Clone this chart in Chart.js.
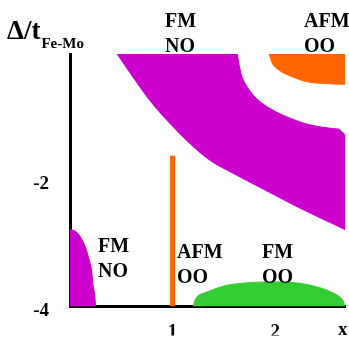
<!DOCTYPE html>
<html>
<head>
<meta charset="utf-8">
<script src="https://cdn.jsdelivr.net/npm/chart.js@4.4.1/dist/chart.umd.min.js"></script>
<style>
  html, body { margin: 0; padding: 0; background: #fff; }
  #wrap { width: 349px; height: 339px; position: relative; }
</style>
</head>
<body>
<div id="wrap"><canvas id="c"></canvas></div>
<script>
// ── axes
const xTicks = [1, 2];
const yTicks = [-4, -2];
const xMax = 2.68, yMin = -4, yMax = 0;

// ── FM / NO large band (closed outline)
//    corner points are listed twice so the curve stays sharp there
const bandX = [0.46, 1.63, 1.63, 1.65, 1.68, 1.73, 1.79, 1.87, 2.00, 2.15, 2.31, 2.46, 2.62, 2.62, 2.68, 2.68, 2.68, 2.68, 2.24, 1.92, 1.59, 1.37, 1.17, 0.98, 0.81, 0.65, 0.46];
const bandY = [0, 0, 0, -0.19, -0.38, -0.53, -0.66, -0.78, -0.91, -1.02, -1.11, -1.16, -1.19, -1.19, -1.28, -1.28, -2.78, -2.78, -2.44, -2.17, -1.89, -1.69, -1.42, -1.11, -0.80, -0.45, 0];

// ── AFM / OO cap, top right
const capX = [1.94, 1.98, 2.05, 2.12, 2.31, 2.51, 2.68, 2.68, 2.68];
const capY = [0, -0.17, -0.27, -0.33, -0.44, -0.47, -0.48, -0.48, 0];

// ── FM / OO dome on the x axis
const domeX = [1.20, 1.24, 1.35, 1.51, 1.68, 1.90, 2.17, 2.39, 2.56, 2.65, 2.68];
const domeY = [-4, -3.84, -3.76, -3.67, -3.63, -3.61, -3.62, -3.68, -3.78, -3.88, -4];

// ── FM / NO corner near x = 0
const cornerX = [0, 0, 0, 0.03, 0.07, 0.11, 0.15, 0.18, 0.21, 0.22, 0.24, 0.25];
const cornerY = [-4, -2.78, -2.78, -2.79, -2.83, -2.92, -3.06, -3.22, -3.41, -3.61, -3.81, -4];

// ── AFM / OO line at x = 1
const lineX = [1, 1];
const lineY = [-4, -1.61];

// ── phase labels: [text lines, left x px, first baseline px]
const phaseLabels = [
  [['FM', 'NO'], 165, 27],
  [['AFM', 'OO'], 304, 27],
  [['FM', 'NO'], 98, 252],
  [['AFM', 'OO'], 177, 258],
  [['FM', 'OO'], 262, 258]
];

const SERIF = "'Liberation Serif', 'Times New Roman', serif";
const pts = (xs, ys) => xs.map((x, i) => ({ x, y: ys[i] }));

function area(xs, ys, color) {
  return {
    data: pts(xs, ys),
    borderColor: color, backgroundColor: color,
    borderWidth: 1, pointRadius: 0, tension: 0.35, fill: 'shape'
  };
}

// ── free text: phase names, y title, x letter
const textPlugin = {
  id: 'texts',
  afterDraw(chart) {
    const ctx = chart.ctx;
    ctx.save();
    ctx.fillStyle = '#000';
    ctx.textAlign = 'left';
    ctx.textBaseline = 'alphabetic';
    ctx.font = 'bold 20px ' + SERIF;
    phaseLabels.forEach(([lines, x, y]) => {
      lines.forEach((t, i) => ctx.fillText(t, x, y + i * 25));
    });
    ctx.font = 'bold 27px ' + SERIF;
    ctx.fillText('\u0394/t', 7, 39);
    const w = ctx.measureText('\u0394/t').width;
    ctx.font = 'bold 15px ' + SERIF;
    ctx.fillText('Fe-Mo', 7 + w + 1, 48);
    ctx.font = 'bold 19px ' + SERIF;
    ctx.fillText('x', 338, 335);
    ctx.restore();
  }
};

const tickFont = { family: SERIF, size: 19, weight: 'bold' };

new Chart(document.getElementById('c'), {
  type: 'line',
  data: {
    datasets: [
      area(bandX, bandY, '#cc00cc'),
      area(capX, capY, '#ff6600'),
      area(domeX, domeY, '#33cc33'),
      area(cornerX, cornerY, '#cc00cc'),
      { data: pts(lineX, lineY), borderColor: '#ff6600', borderWidth: 5, borderCapStyle: 'butt', pointRadius: 0, fill: false }
    ]
  },
  options: {
    responsive: true, maintainAspectRatio: false,
    animation: false, events: [],
    layout: { padding: { top: 54, right: 4, left: 0, bottom: 0 } },
    plugins: { legend: { display: false }, tooltip: { enabled: false } },
    scales: {
      x: {
        type: 'linear', min: 0, max: xMax,
        grid: { display: false, drawTicks: false },
        border: { display: true, color: '#000', width: 3 },
        ticks: { color: '#000', font: tickFont, padding: 14, maxRotation: 0 },
        afterBuildTicks: s => { s.ticks = xTicks.map(v => ({ value: v })); },
        afterFit: s => { s.height = 29; }
      },
      y: {
        type: 'linear', min: yMin, max: yMax,
        grid: { display: false, drawTicks: false },
        border: { display: true, color: '#000', width: 3 },
        ticks: { color: '#000', font: tickFont, padding: 21, labelOffset: 4 },
        afterBuildTicks: s => { s.ticks = yTicks.map(v => ({ value: v })); },
        afterFit: s => { s.width = 70; }
      }
    }
  },
  plugins: [textPlugin]
});
</script>
</body>
</html>
